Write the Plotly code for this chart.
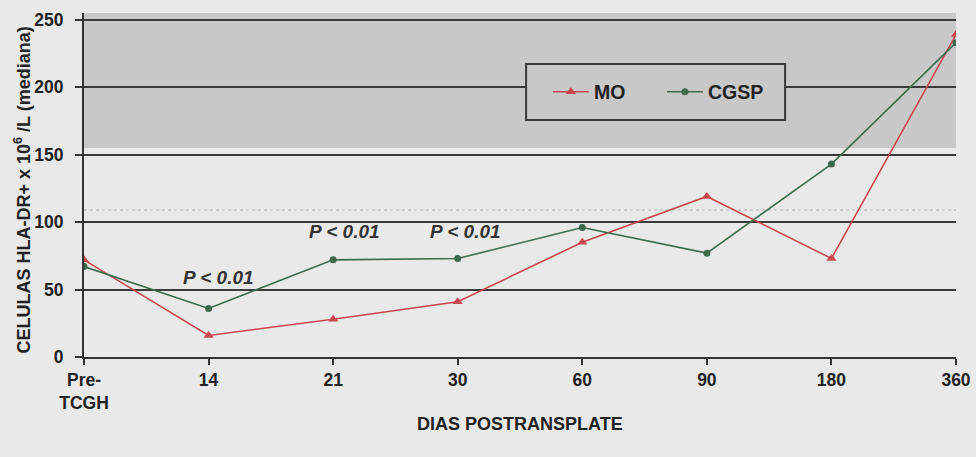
import plotly.graph_objects as go

categories = ["Pre-<br>TCGH", "14", "21", "30", "60", "90", "180", "360"]
mo_values = [72, 16, 28, 41, 85, 119, 73, 239]
cgsp_values = [67, 36, 72, 73, 96, 77, 143, 233]
p_labels = ["P < 0.01", "P < 0.01", "P < 0.01"]
p_x = [1.08, 2.09, 3.06]
p_y = [59, 93, 93]
y_ticks = [0, 50, 100, 150, 200, 250]

xs = list(range(len(categories)))
FONT = "Liberation Sans, Arial, sans-serif"

fig = go.Figure()
fig.add_trace(go.Scatter(
    x=xs, y=mo_values, name="<b>MO</b>", mode="lines+markers",
    line=dict(color="#c9474f", width=1.6),
    marker=dict(symbol="triangle-up", size=9, color="#c9474f"),
))
fig.add_trace(go.Scatter(
    x=xs, y=cgsp_values, name="<b>CGSP</b>", mode="lines+markers",
    line=dict(color="#3c6a4e", width=1.6),
    marker=dict(symbol="circle", size=7, color="#3c6a4e"),
))

# shaded reference band
fig.add_shape(type="rect", xref="x", yref="y", x0=0, x1=7, y0=155, y1=255,
              fillcolor="#c8c8c8", line=dict(width=0), layer="below")
# faint dotted line
fig.add_shape(type="line", xref="x", yref="y", x0=0, x1=7, y0=109, y1=109,
              line=dict(color="#c4c4c4", width=1.5, dash="dot"), layer="below")
# legend box
fig.add_shape(type="rect", xref="paper", yref="paper",
              x0=0.507, x1=0.804, y0=0.689, y1=0.852,
              fillcolor="#c8c8c8", line=dict(color="#3a3a3a", width=2), layer="above")

for t, x, y in zip(p_labels, p_x, p_y):
    fig.add_annotation(x=x, y=y, xref="x", yref="y", text="<b><i>" + t + "</i></b>",
                       showarrow=False, font=dict(family=FONT, size=19, color="#333"))

fig.add_annotation(x=-0.07, y=0.487, xref="paper", yref="paper", textangle=-90,
                   xanchor="center", yanchor="middle",
                   text="<b>CELULAS HLA-DR+ x 10<sup>6</sup> /L (mediana)</b>",
                   showarrow=False, font=dict(family=FONT, size=18, color="#222"))
fig.add_annotation(x=0.5, y=-0.195, xref="paper", yref="paper",
                   xanchor="center", yanchor="middle",
                   text="<b>DIAS POSTRANSPLATE</b>",
                   showarrow=False, font=dict(family=FONT, size=18, color="#222"))

fig.update_layout(
    width=976, height=457,
    margin=dict(l=84, r=20, t=13, b=100, autoexpand=False),
    paper_bgcolor="#e9e9e9", plot_bgcolor="#e9e9e9",
    font=dict(family=FONT, size=18, color="#222"),
    showlegend=True,
    legend=dict(orientation="h", x=0.532, y=0.77, xanchor="left", yanchor="middle",
                bgcolor="rgba(0,0,0,0)", borderwidth=0,
                font=dict(family=FONT, size=19.5, color="#222"),
                entrywidth=63, entrywidthmode="pixels", itemwidth=36),
)
fig.update_xaxes(
    range=[0, 7], tickmode="array", tickvals=xs, automargin=False,
    ticktext=["<b>" + c + "</b>" for c in categories],
    showgrid=False, zeroline=False, showline=True, linecolor="#333", linewidth=2,
    ticks="outside", ticklen=6, tickwidth=1.5, tickcolor="#333",
    tickfont=dict(family=FONT, size=17.5, color="#222"),
)
fig.update_yaxes(
    range=[0, 255], tickmode="array", tickvals=y_ticks, automargin=False,
    ticktext=["<b>%d</b>" % v for v in y_ticks],
    showgrid=True, gridcolor="#3a3a3a", gridwidth=2, zeroline=False,
    showline=True, linecolor="#333", linewidth=2,
    ticks="outside", ticklen=7, tickwidth=1.5, tickcolor="#333",
    ticklabelstandoff=8,
    tickfont=dict(family=FONT, size=17.5, color="#222"),
)

fig.write_html("out.html")
